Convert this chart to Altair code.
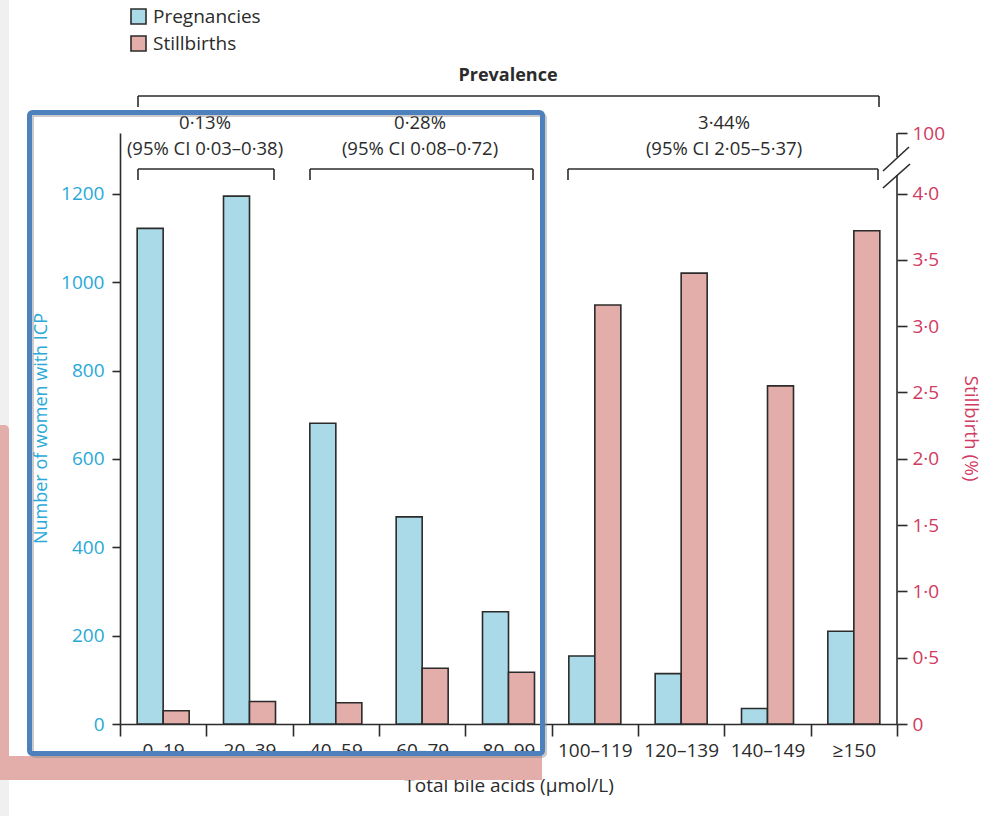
import altair as alt
import pandas as pd

# ---------------- data ----------------
categories = ["0–19", "20–39", "40–59", "60–79", "80–99",
              "100–119", "120–139", "140–149", "≥150"]
pregnancies = [1122, 1195, 681, 469, 254, 154, 114, 35, 210]
stillbirth_pct = [0.10, 0.17, 0.16, 0.42, 0.39, 3.16, 3.40, 2.55, 3.72]
left_ticks = [0, 200, 400, 600, 800, 1000, 1200]
right_ticks = [0, 0.5, 1.0, 1.5, 2.0, 2.5, 3.0, 3.5, 4.0]
right_break_value = 4.457   # axis top, labelled "100" after the break
left_top_value = 1338
series_names = ["Pregnancies", "Stillbirths"]
prev_pct = ["0·13%", "0·28%", "3·44%"]
prev_ci = ["(95% CI 0·03–0·38)", "(95% CI 0·08–0·72)", "(95% CI 2·05–5·37)"]

# ---------------- style / layout ----------------
BLUE = "#aad9e8"
PINK = "#e3adaa"
CYAN = "#2aa9d8"
CRIMSON = "#d13a62"
INK = "#2b2b2b"
FONT = "Open Sans"
OX, OY = 120, 133          # plot origin on the page
W, H = 777, 591            # plot size

df = pd.DataFrame({"band": categories, "pregnancies": pregnancies,
                   "stillbirth": stillbirth_pct})
one = pd.DataFrame({"k": [0]})


def seg(x1, y1, x2, y2, color=INK, width=1.6):
    return alt.Chart(one).mark_rule(color=color, strokeWidth=width).encode(
        x=alt.value(x1 - OX), y=alt.value(y1 - OY),
        x2=alt.value(x2 - OX), y2=alt.value(y2 - OY))


def box(x1, y1, x2, y2, **kw):
    return alt.Chart(one).mark_rect(**kw).encode(
        x=alt.value(x1 - OX), y=alt.value(y1 - OY),
        x2=alt.value(x2 - OX), y2=alt.value(y2 - OY))


def txt(s, x, y, size=19, weight="normal", color=INK, align="center"):
    return alt.Chart(one).mark_text(
        text=s, font=FONT, fontSize=size, fontWeight=weight, color=color,
        align=align, baseline="alphabetic").encode(
        x=alt.value(x - OX), y=alt.value(y - OY))


def bracket(x1, x2, y, drop):
    return [seg(x1, y, x2, y), seg(x1, y, x1, y + drop), seg(x2, y, x2, y + drop)]


x_enc = alt.X(
    "band:N", sort=categories,
    scale=alt.Scale(domain=categories, paddingInner=0, paddingOuter=0),
    axis=alt.Axis(title="Total bile acids (μmol/L)", labelAngle=0,
                  tickBand="extent", tickSize=12, tickWidth=1.6, tickColor=INK,
                  domainColor=INK, domainWidth=1.6, labelFontSize=19,
                  labelColor=INK, labelPadding=5, labelFont=FONT,
                  titleFont=FONT, titleFontSize=19, titleFontWeight="normal",
                  titleColor=INK, titleY=67, titleBaseline="alphabetic"))

blue = alt.Chart(df).mark_bar(width=26, xOffset=-13, fill=BLUE, stroke=INK,
                              strokeWidth=1.6).encode(
    x=x_enc,
    y=alt.Y("pregnancies:Q",
            scale=alt.Scale(domain=[0, left_top_value], nice=False, zero=True),
            axis=alt.Axis(orient="left", values=left_ticks, format="d",
                          title="Number of women with ICP", labelColor=CYAN,
                          labelFontSize=19, labelFont=FONT, labelPadding=8,
                          tickSize=8, tickWidth=1.6, tickColor=INK,
                          domainColor=INK, domainWidth=1.6,
                          titleColor=CYAN, titleFont=FONT, titleFontSize=18,
                          titleFontWeight="normal", titleAngle=-90,
                          titleX=-79, titleY=295, titleAlign="center",
                          titleBaseline="middle")),
    tooltip=["band", "pregnancies"])

label_expr = ("datum.value > 4.2 ? '100' : (datum.value == 0 ? '0' : "
              "replace(format(datum.value, '.1f'), '.', '·'))")

pink = alt.Chart(df).mark_bar(width=26, xOffset=13, fill=PINK, stroke=INK,
                              strokeWidth=1.6).encode(
    x=x_enc,
    y=alt.Y("stillbirth:Q",
            scale=alt.Scale(domain=[0, right_break_value], nice=False, zero=True),
            axis=alt.Axis(orient="right", values=right_ticks + [right_break_value],
                          labelExpr=label_expr, title="Stillbirth (%)",
                          labelColor=CRIMSON, labelFontSize=19, labelFont=FONT,
                          labelPadding=5, tickSize=10, tickWidth=1.6,
                          tickColor=INK, domain=False,
                          titleColor=CRIMSON, titleFont=FONT, titleFontSize=19,
                          titleFontWeight="normal", titleAngle=90,
                          titleX=73, titleY=295, titleAlign="center",
                          titleBaseline="middle")),
    tooltip=["band", "stillbirth"])

decor = []
# page strip on the far left
decor.append(box(0, 0, 9, 816, fill="#f0f0f0"))

marks = [blue, pink]

ann = []
# legend
ann.append(box(131, 9, 146, 24, fill=BLUE, stroke=INK, strokeWidth=1.6))
ann.append(box(131, 36, 146, 51, fill=PINK, stroke=INK, strokeWidth=1.6))
ann.append(txt(series_names[0], 153, 23, align="left"))
ann.append(txt(series_names[1], 153, 50, align="left"))
# prevalence header and brackets
ann.append(txt("Prevalence", 508, 81, size=18, weight="bold"))
ann += bracket(138, 879, 96, 11)
ann += bracket(138, 274, 169, 11)
ann += bracket(310, 533, 169, 11)
ann += bracket(568, 878, 169, 11)
for label, ci, cx in zip(prev_pct, prev_ci, [205, 420, 724]):
    ann.append(txt(label, cx, 129, size=18.5))
    ann.append(txt(ci, cx, 155, size=18.5))
# right axis line with break
ann.append(seg(897, 133, 897, 157))
ann.append(seg(897, 175, 897, 724))
ann.append(seg(883, 171, 909, 147))
ann.append(seg(883, 188, 910, 164))

overlay = []
# pink L-shaped band
overlay.append(box(0, 425, 9, 780, fill=PINK, cornerRadiusTopRight=5))
overlay.append(box(0, 756, 542, 780, fill=PINK))
# blue highlight frame with soft shadow
overlay.append(box(32, 115, 545, 756, filled=False, stroke="#8a8a8a",
                   strokeWidth=4, strokeOpacity=0.45, cornerRadius=3))
overlay.append(box(29.5, 112.5, 542.5, 753.5, filled=False, stroke="#4f80be",
                   strokeWidth=5, cornerRadius=3))

chart = alt.layer(*decor, *marks, *ann, *overlay).resolve_scale(
    y="independent"
).properties(
    width=W, height=H,
    autosize=alt.AutoSizeParams(type="none"),
    padding={"left": OX, "top": OY, "right": 986 - OX - W, "bottom": 816 - OY - H},
).configure_view(stroke=None).configure_axis(grid=False)

chart.save("out.html", embed_options={"renderer": "svg", "actions": False})
